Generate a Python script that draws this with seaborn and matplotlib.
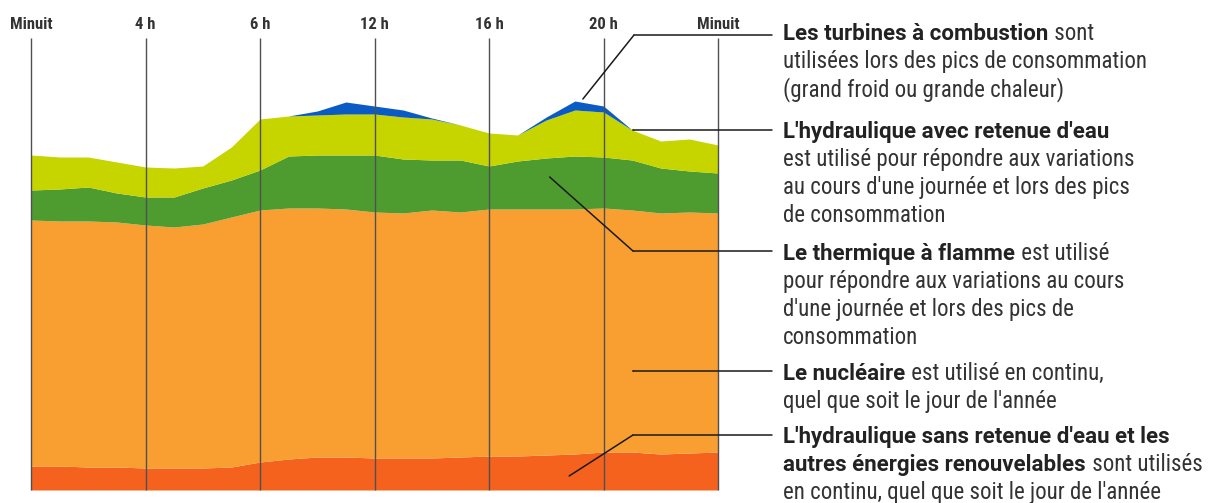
import numpy as np
import pandas as pd
import seaborn as sns
import matplotlib
matplotlib.use("Agg")
import matplotlib.pyplot as plt

# Positions le long de l'axe (une graduation = 1), relevées tous les quarts
position = np.arange(0, 6.01, 0.25)
etiquettes = ['Minuit', '4 h', '6 h', '12 h', '16 h', '20 h', 'Minuit']

# Epaisseur de chaque couche (unités arbitraires), de bas en haut
hydro_fil = [24, 24, 23, 23, 22, 22, 22, 23, 28, 31, 33, 33, 32,
             32, 32, 33, 34, 34, 35, 36, 38, 38, 36, 37, 38]
nucleaire = [246, 245, 246, 245, 243, 241, 244, 250, 252, 251, 249, 248, 246,
             245, 248, 245, 247, 247, 246, 245, 244, 242, 241, 241, 239]
thermique = [30, 32, 34, 29, 28, 30, 36, 37, 40, 52, 53, 54, 57,
             54, 50, 52, 43, 48, 51, 53, 51, 50, 45, 41, 40]
hydro_lac = [35, 32, 30, 31, 30, 29, 22, 33, 51, 40, 40, 41, 41,
             42, 41, 35, 33, 26, 38, 46, 45, 30, 27, 32, 28]
turbines = [0, 0, 0, 0, 0, 0, 0, 0, 0, 0, 4, 12, 8,
            7, 1, 0, 0, 0, 3, 9, 6, 0, 0, 0, 0]

couleurs = ['#F4621E', '#F99F32', '#4E9B2F', '#C6D400', '#0B5BC4']

df = pd.DataFrame({'position': position, 'hydro_fil': hydro_fil,
                   'nucleaire': nucleaire, 'thermique': thermique,
                   'hydro_lac': hydro_lac, 'turbines': turbines})

sns.set_theme(style='white')
plt.rcParams['font.family'] = ['Roboto Condensed', 'Roboto', 'DejaVu Sans']

W, H = 1221, 503
fig = plt.figure(figsize=(W / 100, H / 100), dpi=100)
ax = fig.add_axes([31 / W, (H - 490) / H, (718 - 31) / W, 452 / H])

ax.stackplot(df['position'], df['hydro_fil'], df['nucleaire'], df['thermique'],
             df['hydro_lac'], df['turbines'], colors=couleurs, linewidth=0)
ax.set_xlim(0, 6)
ax.set_ylim(0, 452)
ax.vlines(range(7), 0, 452, color='#505050', lw=1, zorder=3, clip_on=False)

ax.set_xticks(range(7))
ax.set_xticklabels(etiquettes, fontweight='bold', color='#333333')
ax.xaxis.tick_top()
ax.tick_params(axis='x', length=0, pad=4, labelsize=12)
ax.set_yticks([])
sns.despine(ax=ax, left=True, bottom=True)


def fp(x, y):
    # pixels figure, mesurés depuis le haut
    return (x, H - y)


trait = dict(arrowstyle='-', color='#1a1a1a', lw=1.1, shrinkA=0, shrinkB=0)


def renvoi(ancre, coude, y_ligne):
    ax.annotate('', xy=ancre, xycoords='data', xytext=fp(*coude),
                textcoords='figure pixels', arrowprops=trait,
                annotation_clip=False)
    ax.annotate('', xy=fp(772, y_ligne), xycoords='figure pixels',
                xytext=fp(coude[0], y_ligne), textcoords='figure pixels',
                arrowprops=trait, annotation_clip=False)


renvoi((4.82, 391), (634, 35), 35)     # turbines
renvoi((5.26, 360), (633, 130), 130)   # hydraulique avec retenue
renvoi((4.53, 313), (633, 251), 251)   # thermique
renvoi((5.26, 119), (633, 371), 371)   # nucléaire
renvoi((4.70, 14), (633, 435), 435)    # hydraulique sans retenue

lignes = [
    ("Les turbines à combustion", " sont", 32),
    ("", "utilisées lors des pics de consommation", 60),
    ("", "(grand froid ou grande chaleur)", 88),
    ("L'hydraulique avec retenue d'eau", "", 130),
    ("", "est utilisé pour répondre aux variations", 158),
    ("", "au cours d'une journée et lors des pics", 186),
    ("", "de consommation", 214),
    ("Le thermique à flamme", " est utilisé", 252),
    ("", "pour répondre aux variations au cours", 280),
    ("", "d'une journée et lors des pics de", 308),
    ("", "consommation", 336),
    ("Le nucléaire", " est utilisé en continu,", 372),
    ("", "quel que soit le jour de l'année", 400),
    ("L'hydraulique sans retenue d'eau et les", "", 435),
    ("autres énergies renouvelables", " sont utilisés", 463),
    ("", "en continu, quel que soit le jour de l'année", 491),
]

taille = 16.5
police_gras = ['Roboto', 'DejaVu Sans']
for gras, normal, yc in lignes:
    yb = (H - yc - 8) / H
    if gras:
        t = fig.text(783 / W, yb, gras, fontweight='bold', fontsize=taille - 0.5,
                     family=police_gras, color='#222222', va='baseline', ha='left')
        if normal:
            ax.annotate(normal, xy=(1, yb), xycoords=(t, 'figure fraction'),
                        xytext=(1, 0), textcoords='offset pixels',
                        fontsize=taille, color='#333333', va='baseline',
                        ha='left', annotation_clip=False)
    else:
        fig.text(783 / W, yb, normal, fontsize=taille, color='#333333',
                 va='baseline', ha='left')

fig.savefig('out.png', dpi=100, facecolor='white')
